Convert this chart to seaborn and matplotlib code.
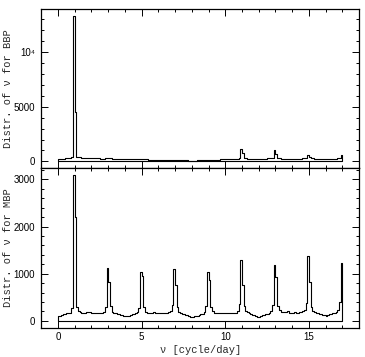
import numpy as np
import pandas as pd
import matplotlib
matplotlib.use("Agg")
import matplotlib.pyplot as plt
from matplotlib.ticker import MultipleLocator, FixedLocator, FixedFormatter
import seaborn as sns

# ---- data: bin counts in 0.1 cycle/day bins from 0 to 17 (one row per unit) ----
bin_edges = [round(i * 0.1, 1) for i in range(171)]

bbp_counts = [
    200, 220, 240, 260, 280, 300, 320, 350, 400, 13300,
    4500, 420, 380, 360, 340, 330, 320, 310, 300, 290,
    285, 280, 275, 270, 265, 260, 258, 262, 275, 300,
    290, 270, 250, 240, 235, 230, 225, 220, 215, 210,
    205, 200, 198, 195, 192, 190, 192, 200, 215, 240,
    230, 210, 190, 180, 170, 165, 160, 155, 150, 145,
    140, 135, 130, 125, 120, 115, 112, 110, 108, 110,
    108, 100, 95, 90, 88, 85, 82, 80, 78, 76,
    75, 76, 78, 80, 85, 90, 95, 100, 108, 115,
    120, 128, 135, 142, 150, 158, 165, 172, 180, 190,
    195, 200, 210, 215, 220, 230, 240, 250, 300, 1100,
    790, 350, 280, 260, 250, 245, 240, 240, 245, 250,
    250, 250, 250, 255, 260, 265, 270, 280, 330, 1050,
    680, 330, 280, 260, 250, 245, 240, 240, 245, 250,
    250, 250, 252, 255, 258, 260, 265, 275, 310, 580,
    420, 300, 270, 255, 245, 240, 235, 235, 240, 245,
    245, 240, 240, 240, 245, 250, 255, 265, 300, 580,
]

mbp_counts = [
    95, 110, 125, 135, 150, 155, 165, 175, 280, 3100,
    2200, 300, 200, 180, 175, 170, 165, 185, 195, 180,
    175, 170, 165, 160, 165, 160, 170, 190, 300, 1120,
    820, 320, 190, 170, 165, 150, 140, 130, 120, 110,
    95, 100, 110, 120, 140, 150, 160, 190, 280, 1030,
    950, 300, 190, 175, 170, 165, 175, 180, 170, 165,
    170, 175, 165, 160, 165, 170, 180, 200, 330, 1100,
    750, 300, 190, 170, 150, 140, 130, 115, 100, 90,
    85, 95, 100, 110, 120, 135, 150, 190, 320, 1030,
    860, 300, 200, 170, 175, 165, 175, 170, 160, 175,
    165, 170, 160, 155, 160, 165, 175, 200, 350, 1290,
    760, 310, 210, 180, 160, 150, 130, 120, 100, 90,
    85, 100, 120, 130, 140, 150, 170, 200, 340, 1180,
    920, 320, 220, 180, 190, 185, 190, 200, 175, 165,
    170, 180, 175, 170, 180, 185, 200, 230, 370, 1370,
    820, 300, 200, 180, 170, 160, 150, 140, 130, 120,
    110, 120, 135, 150, 160, 170, 190, 220, 390, 1230,
]

x_ticks = [0, 5, 10, 15]
bbp_yticks = [0, 5000, 10000]
bbp_yticklabels = ["0", "5000", "10\u2074"]
mbp_yticks = [0, 1000, 2000, 3000]

bbp_label = "Distr. of \u03bd for BBP"
mbp_label = "Distr. of \u03bd for MBP"
x_label = "\u03bd [cycle/day]"

# ---- style ----
sns.set_style("ticks")
plt.rcParams.update({
    "font.family": ["Liberation Sans", "DejaVu Sans"],
    "axes.axisbelow": False,
    "xtick.direction": "in",
    "ytick.direction": "in",
    "xtick.top": True,
    "xtick.bottom": True,
    "ytick.left": True,
    "ytick.right": True,
    "xtick.major.size": 5,
    "ytick.major.size": 5,
    "xtick.minor.size": 2.5,
    "ytick.minor.size": 2.5,
    "xtick.major.width": 0.7,
    "ytick.major.width": 0.7,
    "xtick.minor.width": 0.7,
    "ytick.minor.width": 0.7,
    "xtick.color": "black",
    "ytick.color": "black",
    "xtick.labelsize": 7,
    "ytick.labelsize": 7,
    "xtick.major.pad": 3,
    "ytick.major.pad": 4.5,
})
label_font = dict(family=["Liberation Mono", "DejaVu Sans Mono"], size=7.5)

fig = plt.figure(figsize=(3.65, 3.57), dpi=100)
ax_top = fig.add_axes([0.113, 0.529, 0.871, 0.445])
ax_bot = fig.add_axes([0.113, 0.081, 0.871, 0.448], sharex=ax_top)

edges_arr = np.asarray(bin_edges)
centers = (edges_arr[:-1] + edges_arr[1:]) / 2

for ax, counts in ((ax_top, bbp_counts), (ax_bot, mbp_counts)):
    df = pd.DataFrame({"nu": centers, "count": np.asarray(counts, dtype=float)})
    sns.histplot(data=df, x="nu", weights="count", bins=bin_edges,
                 element="step", fill=True, ax=ax, color="black")
    poly = ax.collections[-1]
    poly.set_facecolor("none")
    poly.set_edgecolor("black")
    poly.set_linewidth(0.8)
    poly.set_alpha(1)
    ax.set_xlim(-1, 18)
    ax.xaxis.set_major_locator(FixedLocator(x_ticks))
    ax.xaxis.set_minor_locator(MultipleLocator(1))
    ax.set_axisbelow(False)
    ax.tick_params(which="both", direction="in", top=True, right=True,
                   bottom=True, left=True)
    for s in ax.spines.values():
        s.set_visible(True)
        s.set_linewidth(0.9)
        s.set_color("black")

ax_top.set_ylim(-620, 13920)
ax_top.yaxis.set_major_locator(FixedLocator(bbp_yticks))
ax_top.yaxis.set_major_formatter(FixedFormatter(bbp_yticklabels))
ax_top.yaxis.set_minor_locator(MultipleLocator(1000))
ax_top.tick_params(axis="x", labelbottom=False)
ax_top.set_xlabel("")
ax_top.set_ylabel(bbp_label, fontdict=label_font)

ax_bot.set_ylim(-155, 3240)
ax_bot.yaxis.set_major_locator(FixedLocator(mbp_yticks))
ax_bot.yaxis.set_minor_locator(MultipleLocator(200))
ax_bot.set_ylabel(mbp_label, fontdict=label_font)
ax_bot.set_xlabel(x_label, fontdict=label_font, labelpad=2)

ax_top.yaxis.set_label_coords(-0.09, 0.5)
ax_bot.yaxis.set_label_coords(-0.09, 0.5)

fig.savefig("out.png", dpi=100)
